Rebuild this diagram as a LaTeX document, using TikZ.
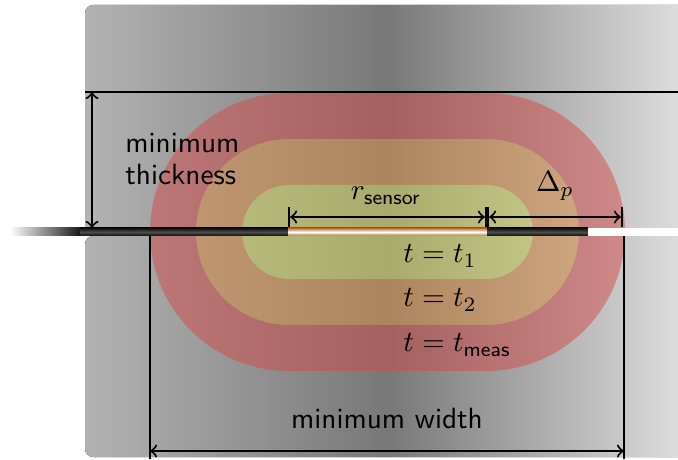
\documentclass[tikz,border=0pt]{standalone}
\usepackage{amsmath}

\definecolor{zonered}{RGB}{211,73,73}
\definecolor{zoneorange}{RGB}{225,145,70}
\definecolor{zonegreen}{RGB}{218,223,98}
\definecolor{sensorbrown}{RGB}{190,105,40}

\begin{document}
\begin{tikzpicture}[x=0.012cm,y=0.012cm,>=to,
    stadium/.style={insert path={(289,227+#1) -- (486,227+#1)
        arc[start angle=90,end angle=-90,radius=#1] -- (289,227-#1)
        arc[start angle=-90,end angle=-270,radius=#1] -- cycle}},
    block/.style={left color=black!30,right color=black!12,middle color=black!53},
    zone/.style={fill=#1,fill opacity=0.5,even odd rule},
    wire/.style={top color=black!95,bottom color=black!95,middle color=black!70},
    dim/.style={line width=0.7pt},
    lbl/.style={font=\sffamily}]

    \useasboundingbox (0,0) rectangle (678,459);
    \clip (0,0) rectangle (678,459);

    % ============================================
    % MATERIAL BLOCKS
    % ============================================

    \fill[block]
        (85,231) [rounded corners=0.1cm] -- (85,454) -- (690,454)
        [sharp corners] -- (690,231) -- cycle;
    \fill[block,rounded corners=0.1cm] (85,2) rectangle (690,223);

    % ============================================
    % ZONES AROUND THE SENSOR
    % ============================================

    \fill[zone=zonered] [stadium=139] [stadium=93];
    \fill[zone=zoneorange] [stadium=93] [stadium=47];
    \fill[zone=zonegreen] [stadium=47];

    % Coordinates
    \coordinate (topL) at (85,367);
    \coordinate (topR) at (678,367);
    \coordinate (wireA) at (10,223);
    \coordinate (wireB) at (80,231);
    \coordinate (sensL) at (288,223);
    \coordinate (sensR) at (487,231);
    \coordinate (wireE) at (588,231);

    % Upper edge of the thickness
    \draw[dim] (topL) -- (topR);

    % ============================================
    % WIRE AND SENSOR
    % ============================================

    \shade[left color=white,right color=black!90] (wireA) rectangle (wireB);
    \shade[wire] (80,223) rectangle (sensL |- wireB);
    \shade[top color=sensorbrown,bottom color=sensorbrown,middle color=white]
        (sensL) rectangle (sensR);
    \shade[wire] (sensR |- sensL) rectangle (wireE);
    \fill[white] (wireE |- sensL) rectangle (680,231);

    % ============================================
    % DIMENSIONS
    % ============================================

    \coordinate (thkT) at (92,367);
    \coordinate (thkB) at (92,231);
    \coordinate (rsL) at (288,242);
    \coordinate (rsR) at (487,242);
    \coordinate (dpR) at (623,242);
    \coordinate (wdL) at (150,8);
    \coordinate (wdR) at (624,8);

    \draw[dim,<->] (thkT) -- (thkB);
    \draw[dim,|<->|] (rsL) -- (rsR);
    \draw[dim,|<->|] (rsR) -- (dpR);
    \draw[dim] (150,223) -- (150,0);
    \draw[dim] (624,223) -- (624,0);
    \draw[dim,<->] (wdL) -- (wdR);

    % Labels
    \node[lbl,align=left,anchor=west] (thick) at (115,300) {minimum\\[-1pt]thickness};
    \node[anchor=base] (rsens) at (386,259) {$r_{\textsf{sensor}}$};
    \node[anchor=base] (deltap) at (555,267) {$\Delta_p$};
    \node[anchor=base west] (tone) at (393,196) {$t = t_1$};
    \node[anchor=base west] (ttwo) at (393,152) {$t = t_2$};
    \node[anchor=base west] (tmeas) at (393,107) {$t = t_{\textsf{meas}}$};
    \node[lbl,anchor=base] (width) at (387,30) {minimum width};

\end{tikzpicture}
\end{document}
